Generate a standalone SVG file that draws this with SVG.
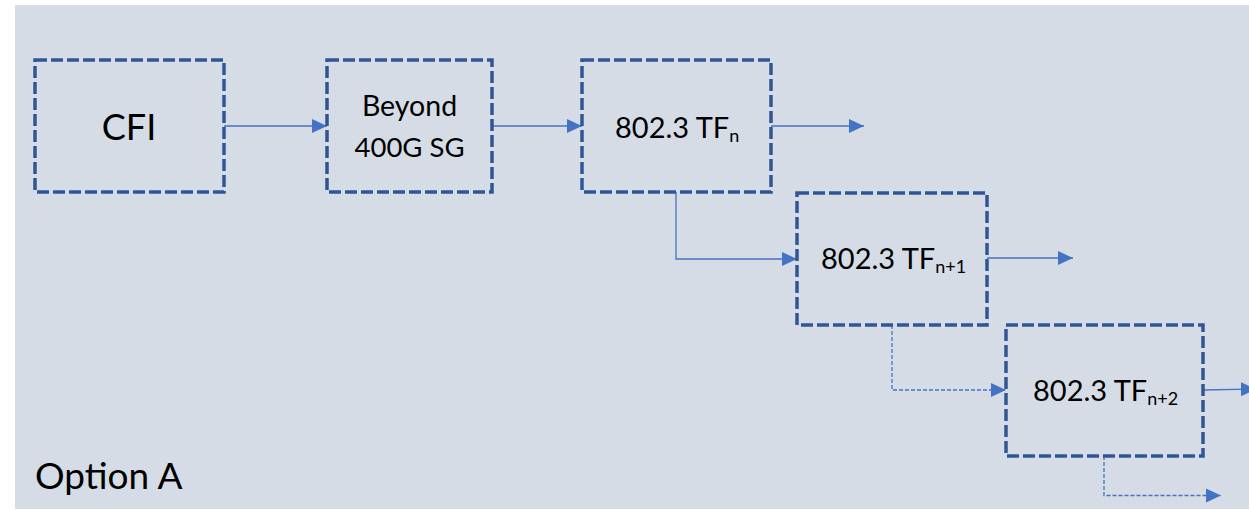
<svg xmlns="http://www.w3.org/2000/svg" width="1249" height="510" viewBox="0 0 1249 510">
<style>
.box{fill:none;stroke:#2f5597;stroke-width:3.5;stroke-dasharray:12 4;}
.con{fill:none;stroke:#4472c4;stroke-width:1.3;}
.dash{stroke-dasharray:4 2;}
text{font-family:Lato,"Open Sans",sans-serif;fill:#000;}
.t{font-size:29px;}
.s{font-size:18px;}
</style>
<defs>
<marker id="ah" markerUnits="userSpaceOnUse" markerWidth="15" markerHeight="15" refX="15" refY="7" orient="auto" viewBox="0 0 15 14">
<path d="M0,0 L15,7 L0,14 Z" fill="#4472c4"/>
</marker>
</defs>
<rect x="15" y="5" width="1234" height="504" fill="#d6dce5"/>
<g id="connectors">
<path class="con" d="M224,126 H327" marker-end="url(#ah)"/>
<path class="con" d="M492,126 H582" marker-end="url(#ah)"/>
<path class="con" d="M771,126 H864" marker-end="url(#ah)"/>
<path class="con" d="M676,192 V259 H797" marker-end="url(#ah)"/>
<path class="con" d="M987,258 H1073" marker-end="url(#ah)"/>
<path class="con dash" d="M892,325 V390 H1006" marker-end="url(#ah)"/>
<path class="con" d="M1203,390 L1256,389" marker-end="url(#ah)"/>
<path class="con dash" d="M1104,456 V495.5 H1221" marker-end="url(#ah)"/>
</g>
<g id="cfi">
<rect class="box" x="35" y="60" width="189" height="132"/>
<text x="129" y="140" font-size="36" text-anchor="middle">CFI</text>
</g>
<g id="beyond">
<rect class="box" x="327" y="60" width="165" height="132"/>
<text x="409.5" y="116" font-size="28.5" text-anchor="middle">Beyond</text>
<text x="409.5" y="157" font-size="27.5" text-anchor="middle">400G SG</text>
</g>
<g id="tfn">
<rect class="box" x="582" y="60" width="189" height="132"/>
<text class="t" x="615" y="138">802.3 TF<tspan class="s" dy="4">n</tspan></text>
</g>
<g id="tfn1">
<rect class="box" x="797" y="193" width="190" height="132"/>
<text class="t" x="821" y="269">802.3 TF<tspan class="s" dy="4">n+1</tspan></text>
</g>
<g id="tfn2">
<rect class="box" x="1006" y="325" width="197" height="131"/>
<text class="t" x="1033" y="400.5">802.3 TF<tspan class="s" dy="4">n+2</tspan></text>
</g>
<text x="35" y="489" font-size="37">Option A</text>
</svg>
